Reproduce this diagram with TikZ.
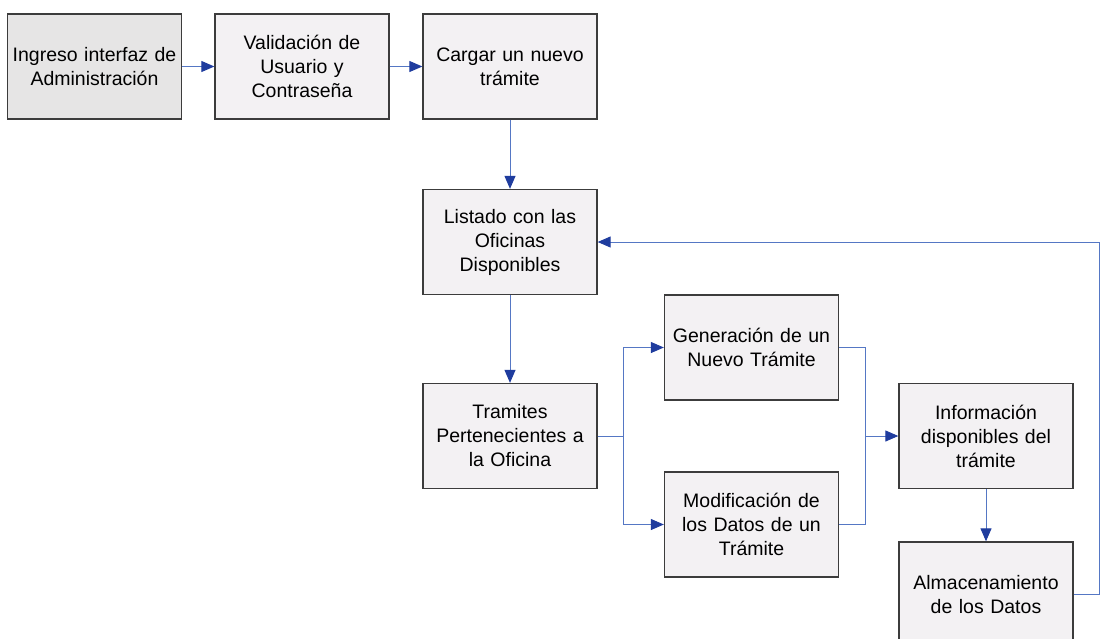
\documentclass[tikz,border=0pt]{standalone}
\usepackage{fontspec}
\setmainfont{Liberation Sans}
\usetikzlibrary{positioning,arrows.meta}
\definecolor{linea}{HTML}{5577C4}
\definecolor{punta}{HTML}{1F3C9E}
\definecolor{borde}{HTML}{3C3C3C}
\definecolor{fondo}{HTML}{F3F1F3}
\definecolor{fondoA}{HTML}{E6E5E5}
\begin{document}
\begin{tikzpicture}[x=1pt,y=-1pt,
        caja/.style={draw=borde,line width=1.3pt,fill=fondo,minimum width=174pt,minimum height=105pt,
            text width=170pt,inner sep=2pt,align=center,font=\fontsize{19.5}{24}\selectfont},
        flecha/.style={draw=linea,line width=1pt,-{Triangle[length=13pt,width=11pt,color=punta]}},
        enlace/.style={draw=linea,line width=1pt}]
        \useasboundingbox (0,0) rectangle (1101,638);
        \clip (0,0) rectangle (1101,638);
        %\draw (0,0) -- (1101,0) -- (1101,638) -- (0,638) -- cycle;

        \node [caja,fill=fondoA] (ingreso) at (94.5,66.5) {Ingreso interfaz de\\Administración};
        \node [caja] (validacion) at (302,66.5) {Validación de\\Usuario y\\Contraseña};
        \node [caja] (cargar) at (510,66.5) {Cargar un nuevo\\trámite};
        \node [caja] (listado) at (510,242) {Listado con las\\Oficinas\\Disponibles};
        \node [caja] (tramites) at (510,436) {Tramites\\Pertenecientes a\\la Oficina};
        \node [caja] (generacion) at (751.5,347.5) {Generación de un\\Nuevo Trámite};
        \node [caja] (modificacion) at (751.5,524.5) {Modificación de\\los Datos de un\\Trámite};
        \node [caja] (informacion) at (986,436) {Información\\disponibles del\\trámite};
        \node [caja] (almacen) at (986,594.5) {Almacenamiento\\de los Datos};

        \coordinate (bifurca) at (623,436);
        \coordinate (une) at (865,436);
        \coordinate (retorno) at (1099,594.5);

        \draw [flecha] (ingreso) -- (validacion);
        \draw [flecha] (validacion) -- (cargar);
        \draw [flecha] (cargar) -- (listado);
        \draw [flecha] (listado) -- (tramites);
        \draw [enlace] (tramites.east) -- (bifurca);
        \draw [flecha] (bifurca) |- (generacion.west);
        \draw [flecha] (bifurca) |- (modificacion.west);
        \draw [enlace] (generacion.east) -| (une);
        \draw [enlace] (modificacion.east) -| (une);
        \draw [flecha] (une) -- (informacion.west);
        \draw [flecha] (informacion) -- (almacen);
        \draw [flecha] (almacen.east) -- (retorno) |- (listado.east);
\end{tikzpicture}
\end{document}
